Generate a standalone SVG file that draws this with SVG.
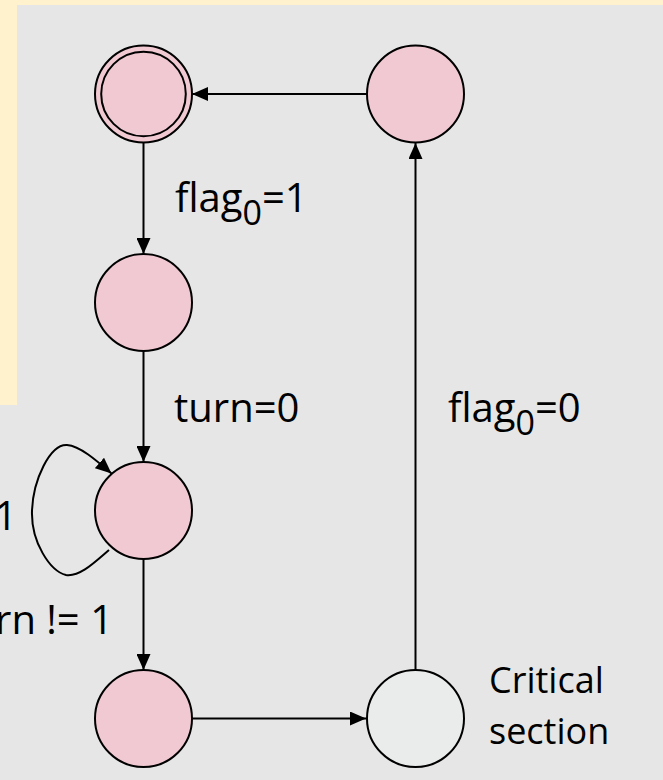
<svg xmlns="http://www.w3.org/2000/svg" width="663" height="780" viewBox="0 0 663 780">
<style>
.st{fill:#F0C9D2;stroke:#000;stroke-width:2}
.cs{fill:#EAEBEB;stroke:#000;stroke-width:2}
.ln{fill:none;stroke:#000;stroke-width:2}
.lb{font-family:"Open Sans","Liberation Sans",sans-serif;font-size:40px;fill:#000}
.sm{font-family:"Open Sans","Liberation Sans",sans-serif;font-size:36px;fill:#000}
</style>
<defs>
<marker id="ah" markerUnits="userSpaceOnUse" markerWidth="16" markerHeight="14" refX="16" refY="7" orient="auto">
<path d="M0,0 L16,7 L0,14 z" fill="#000"/>
</marker>
</defs>
<rect x="0" y="0" width="663" height="780" fill="#E6E6E6"/>
<rect x="0" y="0" width="663" height="405" fill="#FFF2CC"/>
<rect x="17" y="5" width="646" height="775" fill="#E6E6E6"/>

<g id="connectors">
<line class="ln" x1="143.5" y1="142.5" x2="143.5" y2="254" marker-end="url(#ah)"/>
<line class="ln" x1="143.5" y1="351" x2="143.5" y2="462" marker-end="url(#ah)"/>
<line class="ln" x1="143.5" y1="559" x2="143.5" y2="670" marker-end="url(#ah)"/>
<line class="ln" x1="192" y1="718.5" x2="366" y2="718.5" marker-end="url(#ah)"/>
<line class="ln" x1="415.5" y1="670" x2="415.5" y2="143" marker-end="url(#ah)"/>
<line class="ln" x1="367" y1="94" x2="192" y2="94" marker-end="url(#ah)"/>
<path class="ln" d="M109,550 C95,562 80,577 66,575 C50,571 31,542 32,511 C33,480 50,444 67,445 C80,446 96,460 111.5,473.5" marker-end="url(#ah)"/>
</g>

<g id="labels">
<text class="lb" x="175" y="212">flag<tspan font-size="34" dy="13">0</tspan><tspan dy="-13">=1</tspan></text>
<text class="lb" x="174" y="421.7">turn=0</text>
<text class="lb" x="448" y="421.7">flag<tspan font-size="34" dy="13">0</tspan><tspan dy="-13">=0</tspan></text>
<text class="lb" x="17" y="529.5" text-anchor="end">1</text>
<text class="lb" x="113" y="633.5" text-anchor="end">rn != 1</text>
<text class="sm" x="489" y="692.5">Critical</text>
<text class="sm" x="489" y="743.5">section</text>
</g>

<g id="s0">
<circle class="st" cx="143.5" cy="94" r="48.5"/>
<circle class="st" cx="143.5" cy="94" r="42.3"/>
</g>
<g id="s1"><circle class="st" cx="143.5" cy="302.5" r="48.5"/></g>
<g id="s2"><circle class="st" cx="143.5" cy="510.5" r="48.5"/></g>
<g id="s3"><circle class="st" cx="143.5" cy="718.5" r="48.5"/></g>
<g id="cs"><circle class="cs" cx="415.5" cy="718.5" r="48.5"/></g>
<g id="s5"><circle class="st" cx="415.5" cy="94" r="48.5"/></g>
</svg>
